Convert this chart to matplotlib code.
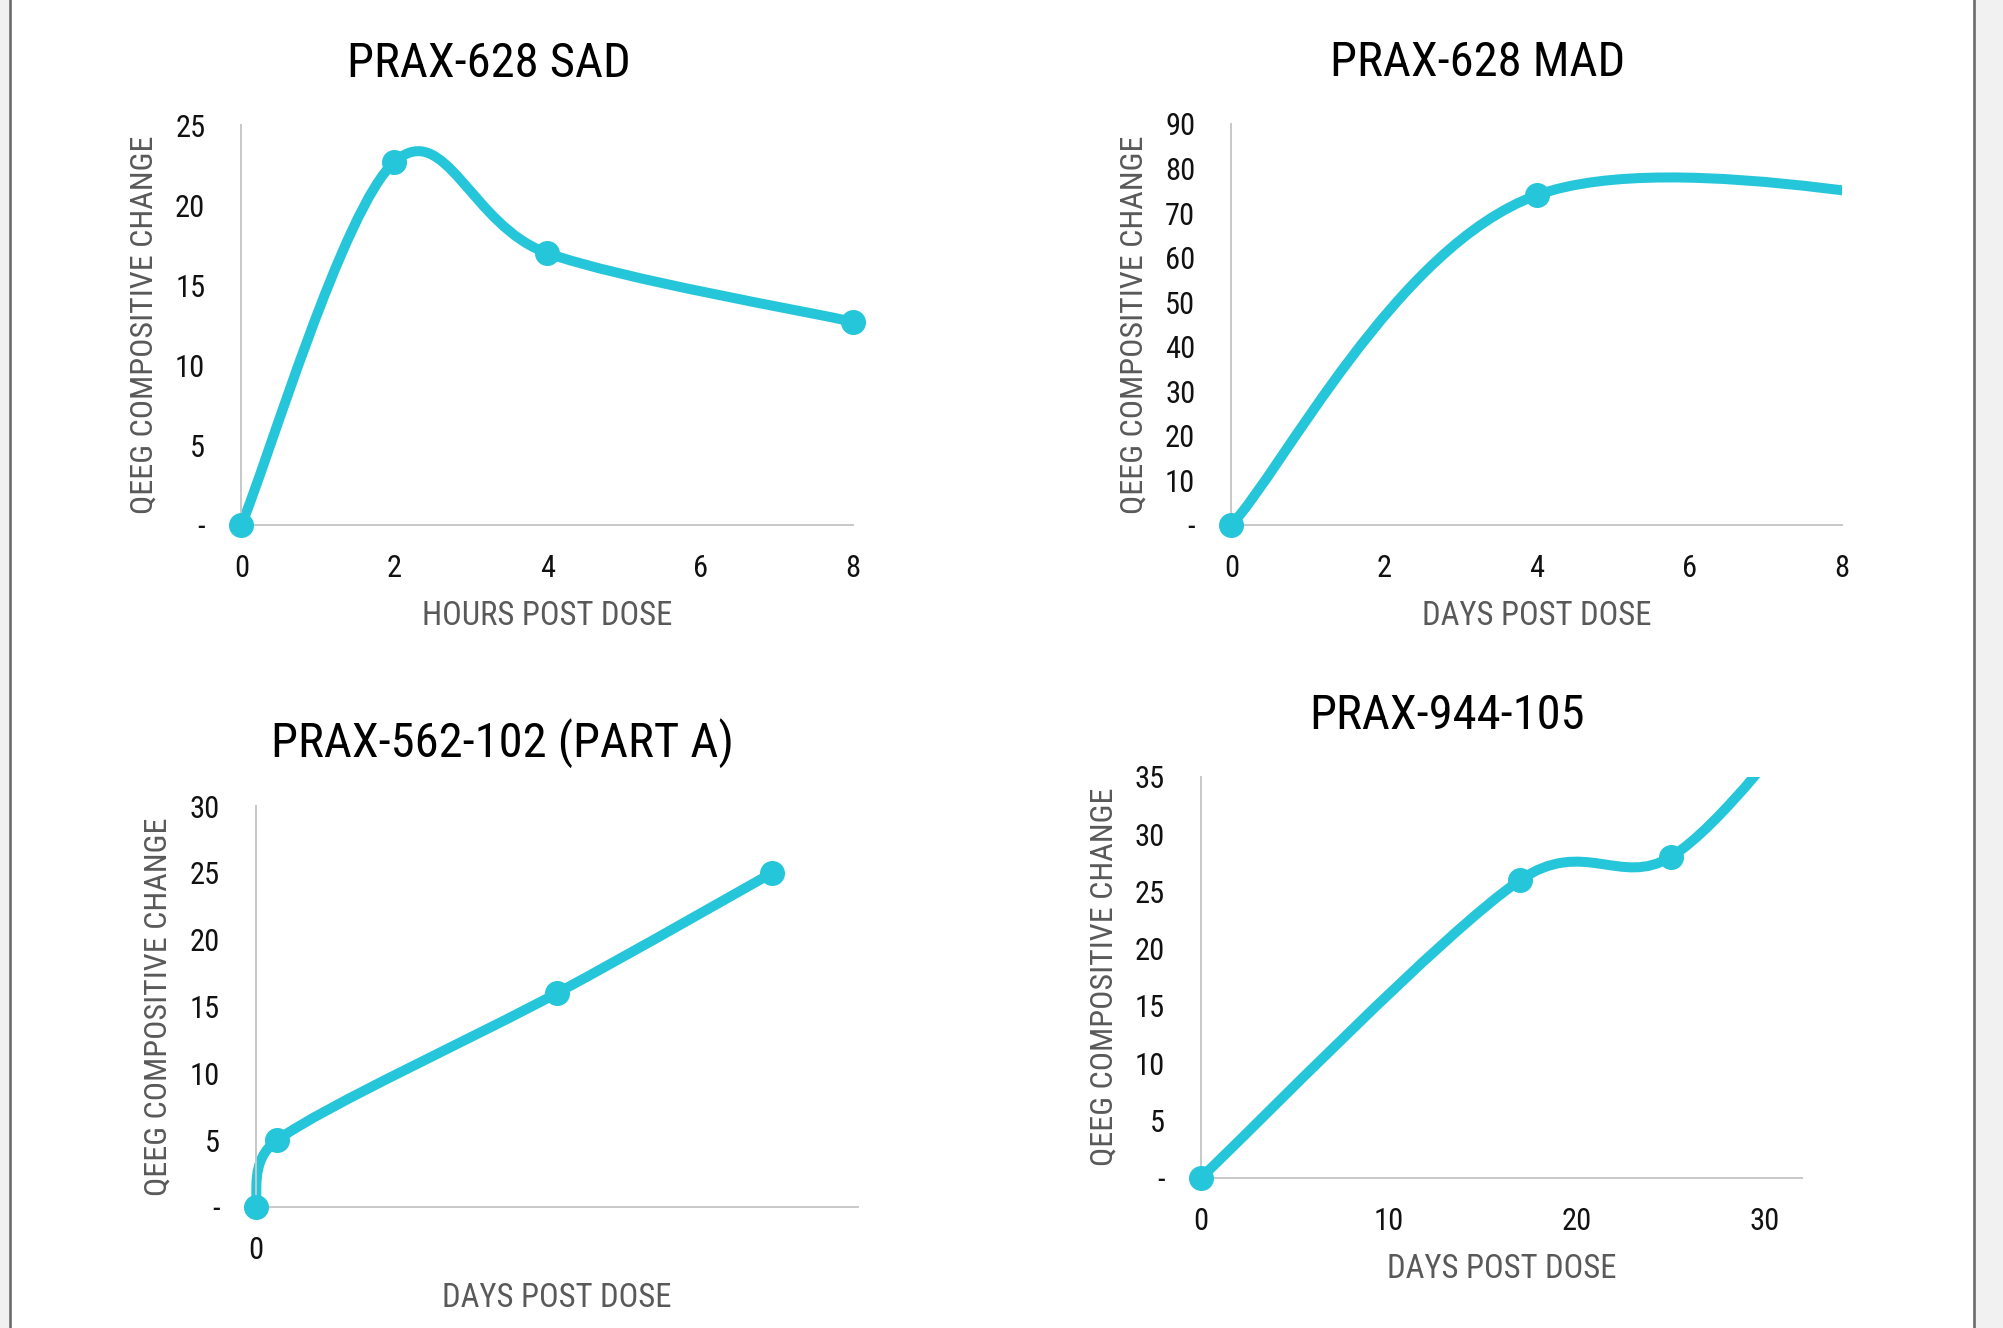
import math
import matplotlib
matplotlib.use('Agg')
import matplotlib.pyplot as plt
from matplotlib.path import Path
from matplotlib.patches import PathPatch, Rectangle
from matplotlib.lines import Line2D
from matplotlib.ticker import FuncFormatter, MultipleLocator

plt.rcParams['font.family'] = ['Roboto Condensed', 'Liberation Sans Narrow', 'Roboto', 'DejaVu Sans']

W, H = 2003, 1328
CYAN = '#26c6da'

# --- data (last points of MAD and 944 lie past the axis limits, as in the source chart)
sad_hours = [0, 2, 4, 8]
sad_change = [0, 22.7, 17, 12.7]

mad_days = [0, 4, 11]
mad_change = [0, 74, 68]

prax562_days = [0, 1, 14, 24]
prax562_change = [0, 5, 16, 25]

prax944_days = [0, 17, 25, 33]
prax944_change = [0, 26, 28, 42]


def smooth_path(xs, ys, sx, sy, limit=0.5):
    # excel style smoothed line: catmull-rom beziers worked out in pixel space,
    # handles kept shorter than the neighbouring segment
    pts = [(x * sx, y * sy) for x, y in zip(xs, ys)]
    n = len(pts)

    def handles(i):
        p0 = pts[max(i - 1, 0)]
        p1 = pts[i]
        p2 = pts[min(i + 1, n - 1)]
        vx = (p2[0] - p0[0]) / 6
        vy = (p2[1] - p0[1]) / 6
        length = math.hypot(vx, vy)
        if length == 0:
            return p1, p1
        back = min(1, limit * math.dist(p0, p1) / length)
        fwd = min(1, limit * math.dist(p1, p2) / length)
        return (p1[0] - vx * back, p1[1] - vy * back), (p1[0] + vx * fwd, p1[1] + vy * fwd)

    verts = [pts[0]]
    codes = [Path.MOVETO]
    for i in range(n - 1):
        c1 = handles(i)[1]
        c2 = handles(i + 1)[0]
        verts += [c1, c2, pts[i + 1]]
        codes += [Path.CURVE4] * 3
    return Path([(x / sx, y / sy) for x, y in verts], codes)


def add_axes(fig, left, top, right, bottom):
    return fig.add_axes([left / W, 1 - bottom / H, (right - left) / W, (bottom - top) / H])


def draw_panel(fig, box, xs, ys, xmax, ymax, ystep, xstep, title, title_xy, xlabel):
    ax = add_axes(fig, *box)
    w = box[2] - box[0]
    h = box[3] - box[1]
    ax.set_xlim(0, xmax)
    ax.set_ylim(0, ymax)
    ax.xaxis.set_major_locator(MultipleLocator(xstep))
    ax.yaxis.set_major_locator(MultipleLocator(ystep))
    ax.yaxis.set_major_formatter(FuncFormatter(lambda v, p: '-' if v == 0 else '%g' % v))
    for s in ['top', 'right']:
        ax.spines[s].set_visible(False)
    for s in ['left', 'bottom']:
        ax.spines[s].set_color('#c8c8c8')
        ax.spines[s].set_linewidth(1.4)
    ax.tick_params(length=0, labelsize=22, colors='#111111')
    ax.tick_params(axis='y', pad=26)
    ax.tick_params(axis='x', pad=21)

    patch = PathPatch(smooth_path(xs, ys, w / xmax, h / ymax), facecolor='none',
                      edgecolor=CYAN, lw=7.2, capstyle='round', joinstyle='round')
    ax.add_patch(patch)
    # cut the line only at the far ends of the axes
    clip = Rectangle((-0.05, -0.05), 1.05, 1.05, transform=ax.transAxes)
    patch.set_clip_path(clip)
    mx = [x for x, y in zip(xs, ys) if x <= xmax and y <= ymax]
    my = [y for x, y in zip(xs, ys) if x <= xmax and y <= ymax]
    ax.plot(mx, my, 'o', color=CYAN, ms=17, clip_on=False, zorder=5)

    ax.set_xlabel(xlabel, fontsize=23.5, color='#595959')
    ax.xaxis.label.set_va('baseline')
    ax.xaxis.set_label_coords(0.5, -100 / h)
    ax.set_ylabel('QEEG COMPOSITIVE CHANGE', fontsize=23, color='#595959')
    ax.yaxis.label.set_va('baseline')
    ax.yaxis.set_label_coords(-88.5 / w, 0.5)

    fig.text(title_xy[0] / W, 1 - title_xy[1] / H, title, fontsize=35,
             ha='center', va='baseline', color='black')
    return ax


fig = plt.figure(figsize=(W / 100, H / 100), dpi=100)
fig.patch.set_facecolor('white')

# page edges of the screenshot
fig.add_artist(Rectangle((0, 0), 9 / W, 1, transform=fig.transFigure, color='#f1f1f1', lw=0))
fig.add_artist(Rectangle((1975 / W, 0), 28 / W, 1, transform=fig.transFigure, color='#f1f1f1', lw=0))
fig.add_artist(Line2D([10 / W, 10 / W], [0, 1], transform=fig.transFigure, color='#6b6b6b', lw=1.9))
fig.add_artist(Line2D([1973.7 / W, 1973.7 / W], [0, 1], transform=fig.transFigure, color='#6b6b6b', lw=1.9))

draw_panel(fig, (241.4, 125.2, 853.3, 525.0), sad_hours, sad_change, 8, 25, 5, 2,
           'PRAX-628 SAD', (488.5, 76.8), 'HOURS POST DOSE')
draw_panel(fig, (1231.4, 123.9, 1842.0, 525.0), mad_days, mad_change, 8, 90, 10, 2,
           'PRAX-628 MAD', (1478, 75.5), 'DAYS POST DOSE')
draw_panel(fig, (255.5, 806.0, 858.4, 1207.0), prax562_days, prax562_change, 28, 30, 5, 30,
           'PRAX-562-102 (PART A)', (502, 756.8), 'DAYS POST DOSE')
draw_panel(fig, (1200.8, 776.7, 1802.4, 1177.8), prax944_days, prax944_change, 32, 35, 5, 10,
           'PRAX-944-105', (1447, 729), 'DAYS POST DOSE')

fig.savefig('out.png', dpi=100, facecolor='white')
